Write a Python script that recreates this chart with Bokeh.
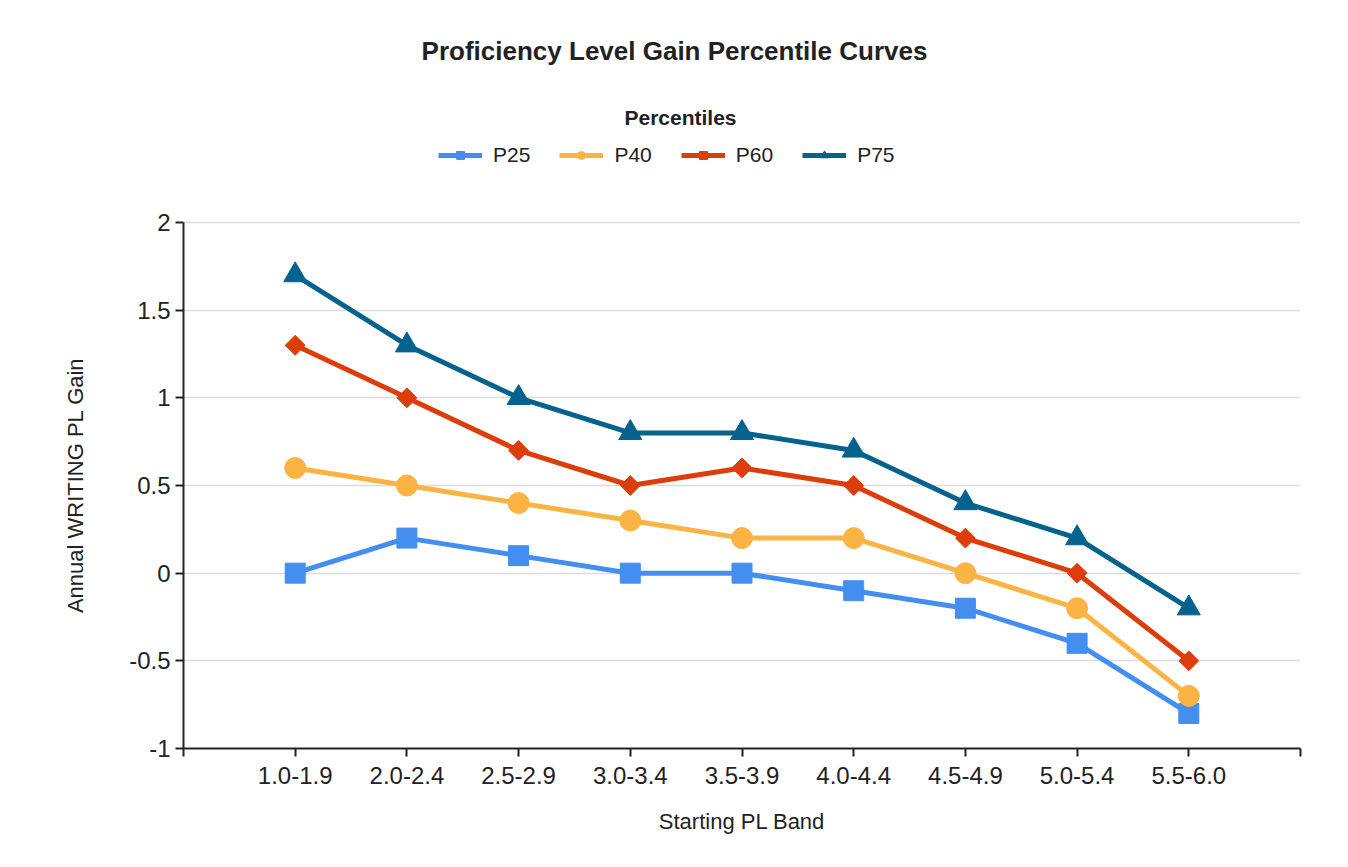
from bokeh.plotting import figure
from bokeh.models import Legend, LegendItem, FixedTicker, Range1d, Label
from bokeh.embed import file_html
from bokeh.resources import INLINE

# ---- data ----
bands = ["1.0-1.9", "2.0-2.4", "2.5-2.9", "3.0-3.4", "3.5-3.9",
         "4.0-4.4", "4.5-4.9", "5.0-5.4", "5.5-6.0"]
p25 = [0.0, 0.2, 0.1, 0.0, 0.0, -0.1, -0.2, -0.4, -0.8]
p40 = [0.6, 0.5, 0.4, 0.3, 0.2, 0.2, 0.0, -0.2, -0.7]
p60 = [1.3, 1.0, 0.7, 0.5, 0.6, 0.5, 0.2, 0.0, -0.5]
p75 = [1.7, 1.3, 1.0, 0.8, 0.8, 0.7, 0.4, 0.2, -0.2]
series_names = ["P25", "P40", "P60", "P75"]
y_ticks = [-1, -0.5, 0, 0.5, 1, 1.5, 2]
y_tick_labels = ["-1", "-0.5", "0", "0.5", "1", "1.5", "2"]
title_text = "Proficiency Level Gain Percentile Curves"
legend_title = "Percentiles"
x_title = "Starting PL Band"
y_title = "Annual WRITING PL Gain"

colors = ["#448ef0", "#fbb444", "#dc3d0a", "#05628c"]
markers = ["square", "circle", "square", "triangle"]
angles = [0.0, 0.0, 0.785398, 0.0]
sizes = [20, 21, 14, 23]

FONT = "Liberation Sans"

xs = list(range(1, len(bands) + 1))

# the frame extends above the value axis to host title and legend;
# the axis itself is bounded to the data range (-1 .. 2)
Y_TOP = 2 + 202 / 175.33

p = figure(frame_width=1117, frame_height=728, output_backend="svg", toolbar_location=None,
           x_range=Range1d(0, len(bands) + 1), y_range=Range1d(-1, Y_TOP),
           min_border_left=183, min_border_right=40, min_border_top=20,
           min_border_bottom=111)
p.title = None
p.outline_line_color = None
p.xgrid.visible = False
p.ygrid.grid_line_color = "#dcdcdc"
p.ygrid.grid_line_width = 1.5

# axes
p.xaxis.ticker = FixedTicker(ticks=list(range(0, len(bands) + 2)))
ov = {0: "", len(bands) + 1: ""}
for i, b in enumerate(bands):
    ov[i + 1] = b
p.xaxis.major_label_overrides = ov
p.yaxis.ticker = FixedTicker(ticks=y_ticks)
p.yaxis.major_label_overrides = {t: l for t, l in zip(y_ticks, y_tick_labels)}
p.yaxis.bounds = (y_ticks[0], y_ticks[-1])
for ax in (p.xaxis, p.yaxis):
    ax.axis_line_color = "#222222"
    ax.axis_line_width = 2
    ax.major_tick_line_color = "#222222"
    ax.major_tick_line_width = 2
    ax.major_tick_out = 8
    ax.major_tick_in = 0
    ax.minor_tick_line_color = None
    ax.major_label_text_font = FONT
    ax.major_label_text_color = "#222222"
    ax.axis_label_text_font = FONT
    ax.axis_label_text_font_style = "normal"
    ax.axis_label_text_color = "#222222"
    ax.axis_label_text_font_size = "22px"
p.xaxis.major_label_text_font_size = "24px"
p.yaxis.major_label_text_font_size = "24px"
p.xaxis.axis_label = x_title
# the axis label is centred on the (taller) frame; trailing no-break spaces
# shift the visible words down to the middle of the bounded value axis
p.yaxis.axis_label = y_title + "\u00a0" * 33
p.xaxis.major_label_standoff = 10
p.yaxis.major_label_standoff = 5
p.xaxis.axis_label_standoff = 22
p.yaxis.axis_label_standoff = 38

items = []
for name, ys, c, m, a, s in zip(series_names, [p25, p40, p60, p75], colors, markers, angles, sizes):
    lr = p.line(xs, ys, line_color=c, line_width=5)
    sr = p.scatter(xs, ys, marker=m, angle=a, size=s, fill_color=c, line_color=c)
    items.append(LegendItem(label=name, renderers=[lr, sr]))

legend = Legend(items=items, orientation="horizontal", location=(255, 581),
                padding=0, margin=0, spacing=29, glyph_width=44, glyph_height=20,
                label_height=24, label_standoff=11,
                label_text_font=FONT, label_text_font_size="21px",
                label_text_color="#222222",
                border_line_color=None, background_fill_alpha=0)
p.add_layout(legend, "center")

p.add_layout(Label(x=491, y=698, x_units="screen", y_units="screen",
                   text=title_text,
                   text_align="center", text_baseline="middle",
                   text_font=FONT, text_font_style="bold", text_font_size="26px",
                   text_color="#222222"))
p.add_layout(Label(x=497, y=631, x_units="screen", y_units="screen",
                   text=legend_title,
                   text_align="center", text_baseline="middle",
                   text_font=FONT, text_font_style="bold", text_font_size="21px",
                   text_color="#222222"))

open("out.html", "w").write(file_html(p, INLINE))
